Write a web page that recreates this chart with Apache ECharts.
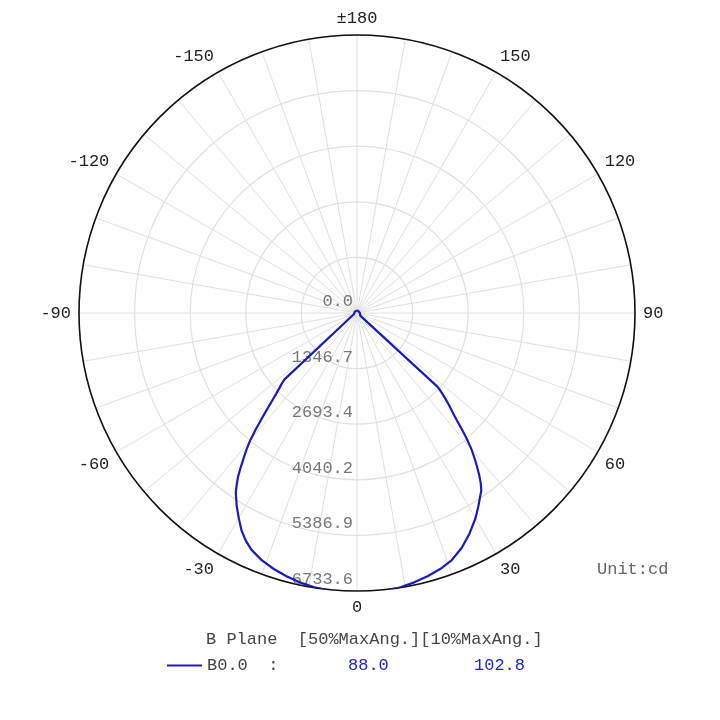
<!DOCTYPE html>
<html>
<head>
<meta charset="utf-8">
<script src="https://cdn.jsdelivr.net/npm/echarts@6/dist/echarts.min.js"></script>
<style>
  html, body { margin: 0; padding: 0; background: #fff; }
  #chart { width: 720px; height: 720px; }
</style>
</head>
<body>
<div id="chart"></div>
<script>
// B plane luminous intensity (cd) by angle (deg), 0 = down
const angles = [-180, -150, -120, -90, -70, -60, -55, -50, -47.5, -47, -46, -45, -44, -43, -42, -41, -40, -39, -38, -37, -36, -35, -34, -32, -30, -28, -26, -24, -21, -18, -15, -12, -9, -6, -3,
  0, 3, 6, 9, 12, 15, 18, 21, 24, 27, 30, 32, 34, 35, 36, 37, 38, 39, 40, 41, 42, 43, 44, 45, 46, 47, 47.5, 50, 55, 60, 70, 90, 120, 150, 180];
const intensity = [60, 60, 65, 70, 75, 80, 90, 110, 2380, 2470, 2610, 2770, 2970, 3200, 3460, 3740, 4020, 4250, 4460, 4680, 4900, 5080, 5250, 5500, 5730, 5960, 6140, 6280, 6420, 6520, 6600, 6670, 6720, 6760, 6780,
  6790, 6785, 6765, 6725, 6670, 6600, 6520, 6410, 6230, 6000, 5740, 5540, 5340, 5250, 5100, 4920, 4720, 4520, 4320, 4070, 3800, 3530, 3320, 3150, 2960, 2770, 2640, 110, 90, 80, 75, 70, 65, 60, 60];

const ringStep = 1346.72;
const ringMax = 6733.6;
const seriesName = 'B0.0  :';
const beamHeader = 'B Plane  [50%MaxAng.][10%MaxAng.]';
const beamAngles = [88.0, 102.8];
const unitText = 'Unit:cd';

const chart = echarts.init(document.getElementById('chart'));

// angle axis runs 0..360 from the bottom, counter-clockwise; show >180 as negative
const data = angles.map((a, i) => [intensity[i], a < 0 ? a + 360 : a]);

const option = {
  animation: false,
  backgroundColor: '#fff',
  polar: {
    center: [357, 313],
    radius: 278
  },
  angleAxis: {
    type: 'value',
    min: 0,
    max: 360,
    interval: 10,
    startAngle: 270,
    clockwise: false,
    axisLine: { show: true, lineStyle: { color: '#111', width: 1.6 } },
    axisTick: { show: false },
    splitLine: { show: true, lineStyle: { color: '#e0e0e0', width: 1 } },
    axisLabel: {
      margin: 8,
      color: '#222',
      fontFamily: 'Liberation Mono',
      fontSize: 17,
      formatter: function (v) {
        if (v % 30 !== 0 || v === 360) return '';
        if (v === 180) return '±180';
        if (v > 180) return String(v - 360);
        return String(v);
      }
    }
  },
  radiusAxis: {
    type: 'value',
    min: 0,
    max: ringMax,
    interval: ringStep,
    axisLine: { show: false },
    axisTick: { show: false },
    splitLine: { show: true, lineStyle: { color: '#e0e0e0', width: 1.2 } },
    axisLabel: {
      margin: -4,
      align: 'right',
      verticalAlign: 'bottom',
      padding: [0, 0, 3, 0],
      color: '#777',
      fontFamily: 'Liberation Mono',
      fontSize: 17,
      formatter: function (v) { return v.toFixed(1); }
    }
  },
  legend: {
    left: 162,
    top: 652,
    icon: 'rect',
    itemWidth: 35,
    itemHeight: 2,
    data: [seriesName],
    formatter: function (name) {
      return '{n|' + name + '}{a|' + beamAngles[0].toFixed(1) + '}{b|' + beamAngles[1].toFixed(1) + '}';
    },
    textStyle: {
      fontFamily: 'Liberation Mono',
      fontSize: 17,
      rich: {
        n: { width: 141, color: '#444', fontFamily: 'Liberation Mono', fontSize: 17 },
        a: { width: 126, color: '#2323c8', fontFamily: 'Liberation Mono', fontSize: 17 },
        b: { color: '#2323c8', fontFamily: 'Liberation Mono', fontSize: 17 }
      }
    }
  },
  graphic: [
    {
      type: 'text',
      left: 206,
      top: 631,
      style: { text: beamHeader, fill: '#444', font: '17px "Liberation Mono"' }
    },
    {
      type: 'text',
      left: 597,
      top: 561,
      style: { text: unitText, fill: '#666', font: '17px "Liberation Mono"' }
    }
  ],
  series: [
    {
      name: seriesName,
      type: 'line',
      coordinateSystem: 'polar',
      showSymbol: false,
      smooth: false,
      color: '#1c1cb4',
      lineStyle: { color: '#1c1cb4', width: 2.2 },
      data: data
    }
  ]
};

chart.setOption(option);
</script>
</body>
</html>
